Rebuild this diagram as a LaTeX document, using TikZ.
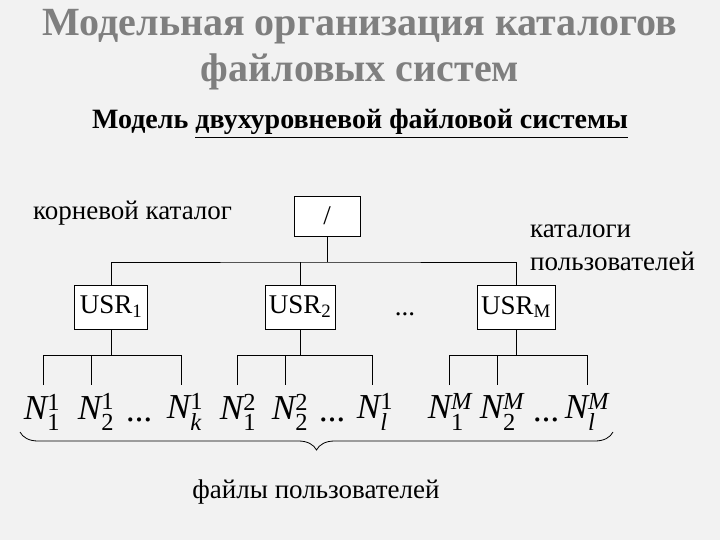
\documentclass[tikz,border=0pt]{standalone}
\usepackage{amsmath}
\usepackage{fontspec}
\setmainfont{Liberation Serif}
\usetikzlibrary{decorations.pathreplacing}
\definecolor{bg}{HTML}{F2F2F2}
\definecolor{tgray}{HTML}{7F7F7F}
\newcommand\leafN[2]{N$^{\text{#1}}_{\text{#2}}$}
\begin{document}
\begin{tikzpicture}[x=1pt,y=-1pt,
 box/.style={draw,line width=0.8pt,fill=white,inner sep=0pt},
 lbl/.style={font=\fontsize{27}{31}\selectfont,inner sep=0pt},
 leaf/.style={font=\fontsize{35}{38}\selectfont\itshape,inner sep=0pt},
 ln/.style={line width=0.8pt}]
\fill[bg] (0,0) rectangle (720,540);
\useasboundingbox (0,0) rectangle (720,540);
\node[font=\fontsize{40}{46}\selectfont\bfseries,text=tgray,align=center] (title) at (360,50) {Модельная организация каталогов\\файловых систем};
\node[font=\fontsize{28}{32}\selectfont\bfseries] (sub) at (360,124) {Модель \underline{двухуровневой файловой системы}};
\node[lbl,anchor=west] (rl) at (33,213) {корневой каталог};
\node[lbl,anchor=west,align=left] (ul) at (530,248) {каталоги\\[2pt]пользователей};
\node[box,minimum width=66,minimum height=40,lbl] (root) at (327,216) {/};
\node[box,minimum width=73,minimum height=44,lbl] (u1) at (111,307) {USR\textsubscript{1}};
\node[box,minimum width=70,minimum height=44,lbl] (u2) at (300,307) {USR\textsubscript{2}};
\node[lbl] (ud) at (405,314) {...};
\node[box,minimum width=78,minimum height=44,lbl] (um) at (516,307) {USR\textsubscript{M}};
\coordinate (h) at (327,262);
\draw[ln] (root) -- (h);
\draw[ln] (u1.north) |- (h) -| (um.north);
\draw[ln] (u2.north) -- (u2.north|-h);
\foreach \u/\a/\b/\c/\lab in {u1/43/91/181/A,u2/237/285/372/B,um/449/497/587/C}{
  \coordinate (\lab m) at (\u.south|-0,355);
  \draw[ln] (\u.south) -- (\lab m);
  \draw[ln] (\a,385) |- (\c,355) -- (\c,385);
  \draw[ln] (\b,355) -- (\b,385);
}
\node[leaf] (n11) at (42,412) {\leafN{\textup{1}}{\textup{1}}};
\node[leaf] (n12) at (96,412) {\leafN{\textup{1}}{\textup{2}}};
\node[leaf] (d1) at (140,420) {...};
\node[leaf] (n1k) at (185,412) {\leafN{\textup{1}}{\textit{k}}};
\node[leaf] (n21) at (238,412) {\leafN{\textup{2}}{\textup{1}}};
\node[leaf] (n22) at (290,412) {\leafN{\textup{2}}{\textup{2}}};
\node[leaf] (d2) at (333,420) {...};
\node[leaf] (n2l) at (375,412) {\leafN{\textup{1}}{\textit{l}}};
\node[leaf] (nm1) at (450,412) {\leafN{\textit{M}}{\textup{1}}};
\node[leaf] (nm2) at (502,412) {\leafN{\textit{M}}{\textup{2}}};
\node[leaf] (dm) at (547,420) {...};
\node[leaf] (nml) at (587,412) {\leafN{\textit{M}}{\textit{l}}};
\coordinate (bl) at (20,432);
\coordinate (br) at (613,432);
\draw[ln,decorate,decoration={brace,mirror,amplitude=18pt}] (bl) -- (br);
\node[lbl] (fl) at (316,492) {файлы пользователей};
\end{tikzpicture}
\end{document}
